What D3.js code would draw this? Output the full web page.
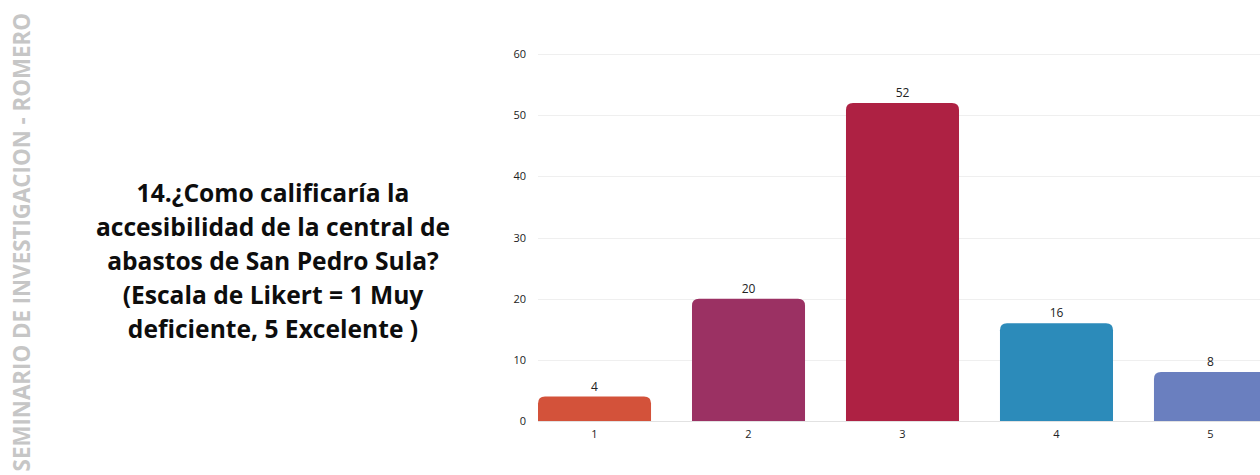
<!DOCTYPE html>
<html>
<head>
<meta charset="utf-8">
<script src="https://cdn.jsdelivr.net/npm/d3@7"></script>
<style>
  body { margin: 0; background: #fff; }
  svg { display: block; }
</style>
</head>
<body>
<script>
// Data
const categories = ["1", "2", "3", "4", "5"];
const values = [4, 20, 52, 16, 8];
const barColors = ["#d3523a", "#9b3163", "#ae2143", "#2c8bba", "#6a7fbf"];
const yTicks = [0, 10, 20, 30, 40, 50, 60];
const titleLines = [
    "14.¿Como calificaría la",
    "accesibilidad de la central de",
    "abastos de San Pedro Sula?",
    "(Escala de Likert = 1 Muy",
    "deficiente, 5 Excelente )"
];
const sideText = "SEMINARIO DE INVESTIGACION - ROMERO";

var svgWidth = 1260, svgHeight = 475;
const plot = {left: 538, right: 1267, top: 54, bottom: 421};

const svg = d3.select("body").append("svg")
    .attr("width", svgWidth)
    .attr("height", svgHeight);

// Side watermark text
svg.append("text")
    .attr("transform", "translate(30,13) rotate(-90)")
    .attr("text-anchor", "end")
    .style("font-family", "'Open Sans', 'Noto Sans', sans-serif")
    .style("font-weight", "bold")
    .style("font-size", "22.3px")
    .style("fill", "#c6c6c6")
    .text(sideText);

// Title block
const title = svg.append("text")
    .attr("text-anchor", "middle")
    .style("font-family", "'Open Sans', 'Noto Sans', sans-serif")
    .style("font-weight", "bold")
    .style("font-size", "24.6px")
    .style("fill", "#0d0d0d");
title.selectAll("tspan")
    .data(titleLines)
    .enter().append("tspan")
    .attr("x", 273)
    .attr("y", (d, i) => 202 + i * 34)
    .text(d => d);

// Scales
var x = d3.scaleBand()
    .domain(categories)
    .range([plot.left, plot.right])
    .paddingInner(0.266)
    .paddingOuter(0);

var y = d3.scaleLinear()
    .domain([0, 60])
    .range([plot.bottom, plot.top]);

// Grid
svg.append("g")
    .selectAll("line")
    .data(yTicks)
    .enter().append("line")
    .attr("x1", plot.left)
    .attr("x2", svgWidth)
    .attr("y1", d => Math.round(y(d)) + 0.5)
    .attr("y2", d => Math.round(y(d)) + 0.5)
    .style("stroke", d => d === 0 ? "#e2e2e2" : "#efefef")
    .style("stroke-width", 1);

// Y axis labels
const yAxis = svg.append("g")
    .attr("transform", "translate(" + (plot.left - 12) + ",0)")
    .call(d3.axisLeft(y).tickValues(yTicks).tickSize(0).tickPadding(0));
yAxis.select(".domain").remove();
yAxis.selectAll("text")
    .style("font-family", "'Open Sans', 'Noto Sans', sans-serif")
    .style("font-size", "11px")
    .style("fill", "#222");

// X axis labels
const xAxis = svg.append("g")
    .attr("transform", "translate(0," + plot.bottom + ")")
    .call(d3.axisBottom(x).tickSize(0).tickPadding(9));
xAxis.select(".domain").remove();
xAxis.selectAll("text")
    .style("font-family", "'Open Sans', 'Noto Sans', sans-serif")
    .style("font-size", "11px")
    .style("fill", "#222");

// Bars with rounded top corners
function barPath(x0, w, yTop, yBase, r) {
    r = Math.min(r, (yBase - yTop), w / 2);
    return "M" + x0 + "," + yBase +
        "V" + (yTop + r) +
        "Q" + x0 + "," + yTop + " " + (x0 + r) + "," + yTop +
        "H" + (x0 + w - r) +
        "Q" + (x0 + w) + "," + yTop + " " + (x0 + w) + "," + (yTop + r) +
        "V" + yBase + "Z";
}

svg.selectAll(".bar")
    .data(values)
    .enter().append("path")
    .attr("class", "bar")
    .attr("d", (d, i) => barPath(x(categories[i]), x.bandwidth(), y(d), y(0), 7))
    .style("fill", (d, i) => barColors[i]);

// Value labels
svg.selectAll(".value")
    .data(values)
    .enter().append("text")
    .attr("class", "value")
    .attr("x", (d, i) => x(categories[i]) + x.bandwidth() / 2)
    .attr("y", d => y(d) - 6)
    .attr("text-anchor", "middle")
    .style("font-family", "'Open Sans', 'Noto Sans', sans-serif")
    .style("font-size", "12px")
    .style("fill", "#222")
    .text(d => d);
</script>
</body>
</html>
